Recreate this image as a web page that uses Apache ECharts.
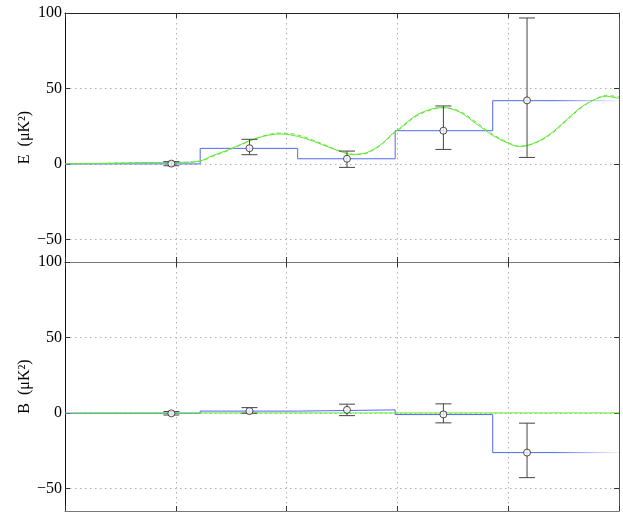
<!DOCTYPE html>
<html>
<head>
<meta charset="utf-8">
<script src="https://cdn.jsdelivr.net/npm/echarts@6/dist/echarts.min.js"></script>
<style>
  html, body { margin: 0; padding: 0; background: #fff; }
  #chart { width: 623px; height: 516px; }
</style>
</head>
<body>
<div id="chart"></div>
<script>
// band powers (step) : bin edges in multipole units, one value per bin
const binEdges = [0, 244, 420, 596, 772, 1000];
const eBand = [0.0, 10.3, 3.4, 22.0, 41.9];
const bBand = [-0.2, 1.2, 2.0, -1.1, -26.3];

// measured points with error bars
const ptEll = [192, 333, 509, 683, 834];
const ePts = [0.2, 10.4, 3.4, 22.0, 42.1];
const eLow = [-1.2, 6.1, -2.3, 9.6, 4.3];
const eHigh = [1.5, 16.3, 8.5, 38.4, 96.7];
const bPts = [-0.3, 1.2, 2.0, -1.0, -26.3];
const bLow = [-1.4, -0.2, -1.8, -6.6, -42.9];
const bHigh = [0.9, 3.5, 5.8, 6.0, -6.8];

// model spectra (green)
const modelEll = [0, 63, 135, 207, 243, 267, 297, 327, 357, 387, 405, 435, 465, 495, 519, 537, 567, 591, 604, 634, 664, 682, 712, 742, 772, 802, 820, 844, 874, 904, 934, 964, 976, 1000];
const eModel = [0, 0.3, 0.8, 1.0, 1.9, 5.6, 9.6, 14.5, 18.2, 19.8, 19.4, 16.7, 12.7, 8.5, 6.3, 6.7, 12.0, 20.0, 23.5, 32.2, 36.6, 37.3, 34.4, 26.7, 18.9, 13.4, 11.6, 13.4, 19.4, 28.9, 38.2, 43.9, 44.8, 43.3];
const eModel2 = [0, 0.3, 0.8, 1.0, 1.7, 5.0, 9.2, 14.2, 18.4, 20.4, 20.2, 17.5, 13.2, 8.8, 6.4, 6.5, 11.6, 19.4, 23.0, 31.6, 36.2, 37.2, 35.0, 27.6, 19.6, 13.8, 11.7, 13.1, 18.8, 28.2, 37.8, 44.2, 45.3, 44.5];
const bModel = [0, 0, 0, 0, 0, 0, 0, 0, 0, 0, 0, 0, 0, 0, 0, 0, 0, 0, 0, 0, 0, 0, 0, 0, 0, 0, 0, 0, 0, 0, 0, 0, 0, 0];

const yTicks = [-50, 0, 50, 100];

const blue = "#5068f0";
const green = "#5fe830";
const serif = "Liberation Serif";

let blueFade = () =>
  new echarts.graphic.LinearGradient(0, 0, 1, 0, [
    { offset: 0, color: blue },
    { offset: 0.88, color: blue },
    { offset: 1, color: "rgba(80,104,240,0.06)" },
  ]);
let greenFade = () =>
  new echarts.graphic.LinearGradient(0, 0, 1, 0, [
    { offset: 0, color: "rgba(95,232,48,0.2)" },
    { offset: 0.03, color: green },
    { offset: 1, color: green },
  ]);

function stepData(band) {
  return binEdges.map((x, i) => [x, band[Math.min(i, band.length - 1)]]);
}

function errorBars(x, lo, hi) {
  return x.map((v, i) => [v, lo[i], hi[i]]);
}

function renderErr(params, api) {
  let x = api.value(0);
  let a = api.coord([x, api.value(1)]);
  let b = api.coord([x, api.value(2)]);
  let style = { stroke: "#444", lineWidth: 1 };
  let w = 8;
  return {
    type: "group",
    children: [
      { type: "line", shape: { x1: a[0], y1: a[1], x2: b[0], y2: b[1] }, style: style },
      { type: "line", shape: { x1: a[0] - w, y1: a[1], x2: a[0] + w, y2: a[1] }, style: style },
      { type: "line", shape: { x1: b[0] - w, y1: b[1], x2: b[0] + w, y2: b[1] }, style: style },
    ],
  };
}

function xAxis(grid, pos, lineColor, split) {
  return {
    type: "value",
    gridIndex: grid,
    position: pos,
    min: 0,
    max: 1000,
    interval: 200,
    axisLine: { onZero: false, lineStyle: { color: lineColor, width: 1 } },
    axisTick: { inside: true, length: 5, lineStyle: { color: "#333" } },
    axisLabel: { show: false },
    splitLine: {
      show: split,
      lineStyle: { color: "#b0b0b0", type: [1.5, 3.5], width: 1 },
    },
  };
}

function yAxisLeft(grid, name) {
  return {
    type: "value",
    gridIndex: grid,
    position: "left",
    min: -65,
    max: 100,
    name: name,
    nameLocation: "middle",
    nameGap: 32,
    nameMoveOverlap: false,
    nameRotate: 90,
    nameTextStyle: { fontFamily: serif, fontSize: 16, color: "#000" },
    axisLine: { onZero: false, lineStyle: { color: "#111", width: 1 } },
    axisTick: { inside: true, length: 5, customValues: yTicks, lineStyle: { color: "#333" } },
    axisLabel: {
      customValues: yTicks,
      margin: 3,
      fontFamily: serif,
      fontSize: 16,
      color: "#000",
      formatter: (v) => (v < 0 ? "\u2212" + -v : "" + v),
    },
    splitLine: {
      show: true,
      lineStyle: { color: "#b0b0b0", type: [1.5, 3.5], width: 1 },
    },
  };
}

function yAxisRight(grid) {
  return {
    type: "value",
    gridIndex: grid,
    position: "right",
    min: -65,
    max: 100,
    axisLine: { onZero: false, lineStyle: { color: "#555", width: 1 } },
    axisTick: { inside: true, length: 5, customValues: yTicks, lineStyle: { color: "#333" } },
    axisLabel: { show: false },
    splitLine: { show: false },
  };
}

function panelSeries(ax, band, model, model2, pts, lo, hi) {
  let list = [
    {
      type: "line",
      xAxisIndex: ax,
      yAxisIndex: ax,
      step: "end",
      symbol: "none",
      lineStyle: { color: blueFade(), width: 1 },
      data: stepData(band),
      z: 2,
    },
    {
      type: "line",
      xAxisIndex: ax,
      yAxisIndex: ax,
      smooth: 0.35,
      symbol: "none",
      lineStyle: { color: greenFade(), width: 1 },
      data: modelEll.map((x, i) => [x, model[i]]),
      z: 3,
    },
  ];
  if (model2) {
    list.push({
      type: "line",
      xAxisIndex: ax,
      yAxisIndex: ax,
      smooth: 0.35,
      symbol: "none",
      lineStyle: { color: green, width: 1, type: [4, 3] },
      data: modelEll.map((x, i) => [x, model2[i]]),
      z: 3,
    });
  }
  list.push(
    {
      type: "custom",
      xAxisIndex: ax,
      yAxisIndex: ax,
      renderItem: renderErr,
      encode: { x: 0, y: [1, 2] },
      data: errorBars(ptEll, lo, hi),
      z: 4,
    },
    {
      type: "scatter",
      xAxisIndex: ax,
      yAxisIndex: ax,
      symbol: "circle",
      symbolSize: 7,
      itemStyle: { color: "#fff", borderColor: "#222", borderWidth: 1 },
      data: ptEll.map((x, i) => [x, pts[i]]),
      z: 5,
    }
  );
  return list;
}

let option = {
  backgroundColor: "#fff",
  animation: false,
  grid: [
    { left: 65, top: 13, width: 554, height: 249 },
    { left: 65, top: 262, width: 554, height: 249 },
  ],
  xAxis: [
    xAxis(0, "bottom", "#666", true),
    xAxis(1, "bottom", "#777", true),
    xAxis(0, "top", "#222", false),
    xAxis(1, "top", "#777", false),
  ],
  yAxis: [
    yAxisLeft(0, "E  (\u03bcK\u00b2)"),
    yAxisLeft(1, "B  (\u03bcK\u00b2)"),
    yAxisRight(0),
    yAxisRight(1),
  ],
  series: [
    ...panelSeries(0, eBand, eModel, eModel2, ePts, eLow, eHigh),
    ...panelSeries(1, bBand, bModel, null, bPts, bLow, bHigh),
  ],
};

let myChart = echarts.init(document.getElementById("chart"));
myChart.setOption(option, true);
window.onresize = myChart.resize;
</script>
</body>
</html>
